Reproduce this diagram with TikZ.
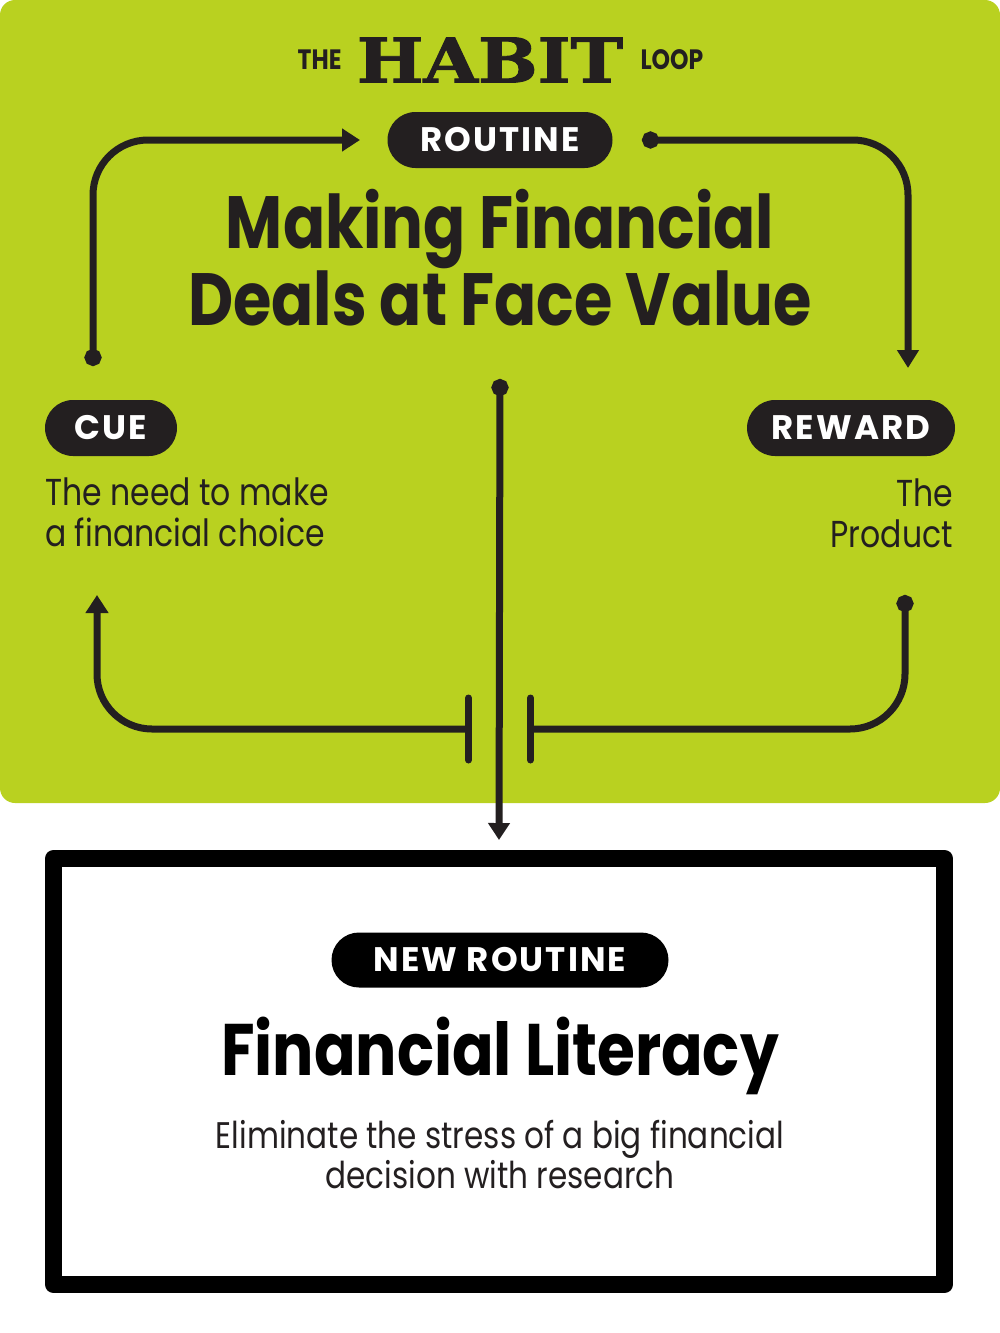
\documentclass[tikz,border=0pt]{standalone}
\usepackage{fontspec}
\setmainfont{Poppins}[FakeStretch=0.84]
\newfontfamily\pillfont{Poppins}[LetterSpace=6]
\newfontfamily\slabfont{DejaVu Serif}[FakeBold=1.5]
\usetikzlibrary{arrows.meta, shapes.misc, positioning}
\definecolor{lime}{RGB}{185,209,32}
\definecolor{ink}{RGB}{35,31,32}

\begin{document}
\begin{tikzpicture}[
    x=1pt, y=-1pt,
    line/.style={ink, line width=7pt, rounded corners=55pt},
    pill/.style={rounded rectangle, fill=ink, text=white, minimum height=56pt,
        inner xsep=0pt, font=\pillfont\bfseries\fontsize{34}{34}\selectfont},
    body/.style={text=ink, inner sep=0pt, font=\fontsize{37.5}{41}\selectfont},
    small/.style={text=ink, inner sep=0pt, font=\bfseries\fontsize{28}{28}\selectfont}
]
    \useasboundingbox (0,0) rectangle (1000,1333);
    \fill[white] (0,0) rectangle (1000,1333);

    % Зелёная панель
    \fill[lime, rounded corners=15pt] (0,0) rectangle (1000,803);

    % Заголовок
    \node[text=ink, inner sep=0pt] (habit) at (490,60)
        {\resizebox{266pt}{45pt}{\slabfont\bfseries HABIT}};
    \node[small, left=15pt of habit] (the) {THE};
    \node[small, right=17pt of habit] (loop) {LOOP};

    % Три шага петли
    \node[pill, minimum width=225pt] (routine) at (500,140) {ROUTINE};
    \node[pill, minimum width=132pt] (cue) at (111,428) {CUE};
    \node[pill, minimum width=208pt] (reward) at (851,428) {REWARD};

    % base = последняя строка
    \node[text=ink, inner sep=0pt, align=center, anchor=base,
        font=\bfseries\fontsize{74}{67}\selectfont] (deal) at (500,325)
        {Making Financial\\Deals at Face Value};

    \node[body, anchor=base west, align=left] (need) at (45,546)
        {The need to make\\a financial choice};
    \node[body, anchor=base east, align=right] (product) at (953,547)
        {The\\Product};

    % Концы стрелок
    \coordinate (cuetop) at (93,366);
    \coordinate (routinein) at (360,140);
    \coordinate (routineout) at (642,140);
    \coordinate (rewardin) at (908,368);
    \coordinate (rewardout) at (905,595);
    \coordinate (cuein) at (97,595);
    \coordinate (lbar) at (472,729);
    \coordinate (rbar) at (527,729);
    \coordinate (dealout) at (500,379);

    % Новая привычка
    \node[draw=black, line width=17pt, line join=round, minimum width=891pt,
        minimum height=426pt] (newbox) at (499,1071.5) {};
    \node[pill, fill=black, minimum width=337pt, minimum height=55pt] (newroutine)
        at (500,960) {NEW ROUTINE};
    \node[text=black, inner sep=0pt, anchor=base,
        font=\bfseries\fontsize{73}{73}\selectfont] (literacy) at (500,1075)
        {Financial Literacy};
    \node[body, anchor=base, align=center, font=\fontsize{37}{40}\selectfont] (stress)
        at (500,1188) {Eliminate the stress of a big financial\\decision with research};

    % Стрелки
    \draw[line, {Circle[length=17pt]}-{Triangle[length=18pt,width=22pt]}]
        (cuetop) |- (routinein);
    \draw[line, {Circle[length=17pt]}-{Triangle[length=18pt,width=21pt]}]
        (routineout) -| (rewardin);
    \draw[line, {Circle[length=17pt]}-{Bar[width=62pt,round]}]
        (rewardout) |- (rbar);
    \draw[line, {Bar[width=62pt,round]}-{Triangle[length=18pt,width=22pt]}]
        (lbar) -| (cuein);
    \draw[line, {Circle[length=17pt]}-{Triangle[length=17pt,width=21pt]}]
        (dealout) -- ([yshift=10pt]newbox.north);
\end{tikzpicture}
\end{document}
